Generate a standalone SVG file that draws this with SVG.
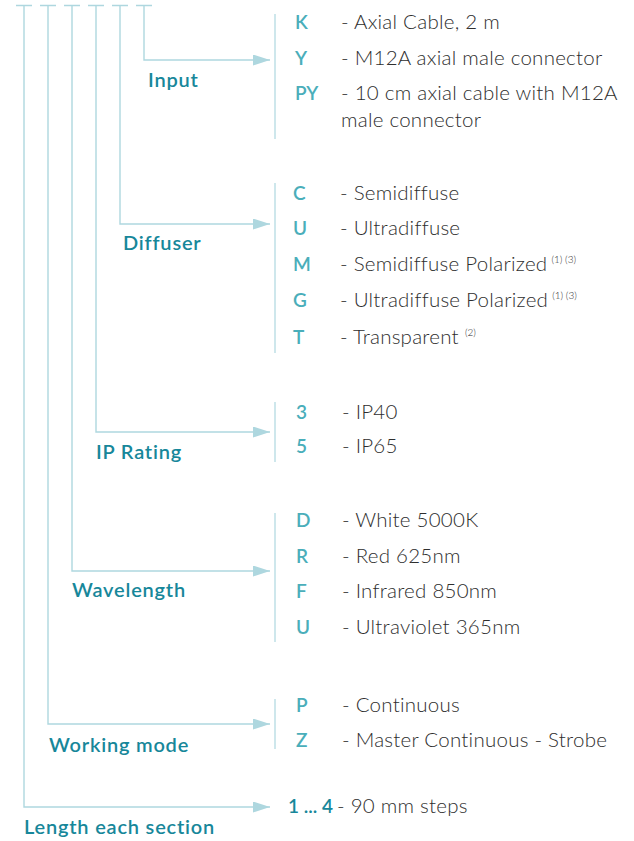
<svg xmlns="http://www.w3.org/2000/svg" width="634" height="841" viewBox="0 0 634 841">
<style>
.bg{fill:#ffffff}
.ln{fill:none;stroke:#aed7df;stroke-width:1.4}
.sep{stroke:#aed7df;stroke-width:1.2}
.lbl{font-family:Lato,"Noto Sans","Liberation Sans",sans-serif;font-size:20px;font-weight:600;letter-spacing:0.8px;fill:#17879a}
.code{font-family:Lato,"Noto Sans","Liberation Sans",sans-serif;font-size:19px;font-weight:600;fill:#4aaeba}
.desc{font-family:Lato,"Noto Sans","Liberation Sans",sans-serif;font-size:20.5px;font-weight:300;letter-spacing:0.25px;fill:#2e2e2e}
.sup{font-size:10px;letter-spacing:0}
</style>
<defs>
<marker id="arr" markerUnits="userSpaceOnUse" markerWidth="18" markerHeight="12" refX="17" refY="5.5" orient="auto">
<path d="M0,0 L17,5.5 L0,11 z" fill="#aed7df"/>
</marker>
</defs>
<rect class="bg" x="0" y="0" width="634" height="841"/>
<g id="connectors">
<path class="ln" d="M16,5.5 H32 M40,5.5 H56 M64,5.5 H80 M88,5.5 H104 M112,5.5 H128 M136,5.5 H152"/>
<path class="ln" d="M144,5.5 V60 H270" marker-end="url(#arr)"/>
<path class="ln" d="M120,5.5 V224 H270" marker-end="url(#arr)"/>
<path class="ln" d="M96,5.5 V432 H270" marker-end="url(#arr)"/>
<path class="ln" d="M72,5.5 V571 H270" marker-end="url(#arr)"/>
<path class="ln" d="M48,5.5 V724 H270" marker-end="url(#arr)"/>
<path class="ln" d="M24,5.5 V807 H270" marker-end="url(#arr)"/>
</g>
<g id="input">
<text class="lbl" x="148" y="87">Input</text>
<line class="sep" x1="275" y1="14" x2="275" y2="139"/>
<text class="code" x="295" y="29">K</text><text class="desc" x="341" y="29">- Axial Cable, 2 m</text>
<text class="code" x="295" y="65">Y</text><text class="desc" x="341" y="65">- M12A axial male connector</text>
<text class="code" x="295" y="100">PY</text><text class="desc" x="341" y="100">- 10 cm axial cable with M12A</text>
<text class="desc" x="341" y="127">male connector</text>
</g>
<g id="diffuser">
<text class="lbl" x="123" y="250">Diffuser</text>
<line class="sep" x1="275" y1="183" x2="275" y2="353"/>
<text class="code" x="293" y="200">C</text><text class="desc" x="340" y="200">- Semidiffuse</text>
<text class="code" x="293" y="235">U</text><text class="desc" x="340" y="235">- Ultradiffuse</text>
<text class="code" x="293" y="271">M</text><text class="desc" x="340" y="271">- Semidiffuse Polarized<tspan class="sup" dx="4" dy="-8">(1) (3)</tspan></text>
<text class="code" x="293" y="307">G</text><text class="desc" x="340" y="307">- Ultradiffuse Polarized<tspan class="sup" dx="4" dy="-8">(1) (3)</tspan></text>
<text class="code" x="293" y="344">T</text><text class="desc" x="340" y="344">- Transparent<tspan class="sup" dx="6" dy="-8">(2)</tspan></text>
</g>
<g id="ip-rating">
<text class="lbl" x="96" y="459">IP Rating</text>
<line class="sep" x1="275" y1="402" x2="275" y2="462"/>
<text class="code" x="296" y="419">3</text><text class="desc" x="342" y="419">- IP40</text>
<text class="code" x="296" y="453">5</text><text class="desc" x="342" y="453">- IP65</text>
</g>
<g id="wavelength">
<text class="lbl" x="72" y="597">Wavelength</text>
<line class="sep" x1="275" y1="513" x2="275" y2="642"/>
<text class="code" x="296" y="527">D</text><text class="desc" x="342" y="527">- White 5000K</text>
<text class="code" x="296" y="563">R</text><text class="desc" x="342" y="563">- Red 625nm</text>
<text class="code" x="296" y="598">F</text><text class="desc" x="342" y="598">- Infrared 850nm</text>
<text class="code" x="296" y="634">U</text><text class="desc" x="342" y="634">- Ultraviolet 365nm</text>
</g>
<g id="working-mode">
<text class="lbl" x="49" y="752">Working mode</text>
<line class="sep" x1="275" y1="699" x2="275" y2="749"/>
<text class="code" x="296" y="712">P</text><text class="desc" x="342" y="712">- Continuous</text>
<text class="code" x="296" y="747">Z</text><text class="desc" x="342" y="747">- Master Continuous - Strobe</text>
</g>
<g id="length">
<text class="lbl" x="24" y="834">Length each section</text>
<text x="288" y="813"><tspan class="code" style="fill:#17879a">1 ... 4</tspan><tspan class="desc" dx="4">- 90 mm steps</tspan></text>
</g>
</svg>
